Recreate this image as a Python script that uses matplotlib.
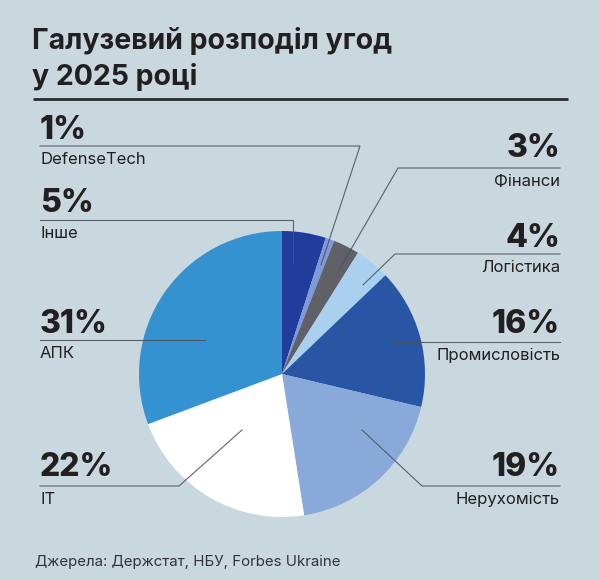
import matplotlib
matplotlib.use("Agg")
import matplotlib.pyplot as plt

# ---- data ----
categories = ["Інше", "DefenseTech", "Фінанси", "Логістика",
              "Промисловість", "Нерухомість", "IT", "АПК"]
shares = [5, 1, 3, 4, 16, 19, 22, 31]
colors = ["#223c9b", "#7f9ad8", "#5f6068", "#abd0ef",
          "#2856a5", "#89a9db", "#ffffff", "#3592d0"]
title_lines = ["Галузевий розподіл угод", "у 2025 році"]
source = "Джерела: Держстат, НБУ, Forbes Ukraine"

BG = "#c9d7df"
TXT = "#231f20"
LINE = "#4d545c"
FONT = ["Inter", "DejaVu Sans"]

fig = plt.figure(figsize=(6, 5.8), dpi=100, facecolor=BG)
ax = fig.add_axes([0, 0, 1, 1])
ax.set_facecolor(BG)

cx, cy, R = 282, 374, 143
ax.pie(shares, colors=colors, startangle=-90, counterclock=True,
       center=(cx, cy), radius=R, normalize=True,
       wedgeprops=dict(linewidth=0))
ax.set_xlim(0, 600)
ax.set_ylim(580, 0)
ax.set_aspect("equal", adjustable="box")
ax.axis("off")

# title
ax.text(32, 49, title_lines[0], fontsize=20.5, fontweight="bold", color=TXT,
        family=FONT, va="baseline", ha="left")
ax.text(32, 85, title_lines[1], fontsize=20.5, fontweight="bold", color=TXT,
        family=FONT, va="baseline", ha="left")
ax.plot([33, 568], [99, 99], color="#2b2b2e", lw=2, solid_capstyle="butt")

# label layout: (side, pct baseline, line y, line end x, anchor point)
layout = {
    "DefenseTech":   ("L", 139, 146, 360, (321, 265)),
    "Інше":          ("L", 212, 220, 293, (293, 263)),
    "АПК":           ("L", 333, 340, 205, None),
    "IT":            ("L", 476, 486, 179, (242, 430)),
    "Фінанси":       ("R", 157, 168, 398, (339, 270)),
    "Логістика":     ("R", 247, 254, 395, (363, 285)),
    "Промисловість": ("R", 333, 342, 392, None),
    "Нерухомість":   ("R", 476, 486, 422, (362, 430)),
}

for cat, val in zip(categories, shares):
    side, pb, ly, lx, anchor = layout[cat]
    if side == "L":
        x0, ha = 40, "left"
    else:
        x0, ha = 560, "right"
    xs = [x0, lx]
    ys = [ly, ly]
    if anchor is not None:
        xs.append(anchor[0])
        ys.append(anchor[1])
    ax.plot(xs, ys, color=LINE, lw=0.8, alpha=0.9, solid_joinstyle="miter")
    ax.text(x0, pb, f"{val}%", fontsize=23, fontweight="heavy", color=TXT,
            family=FONT, ha=ha, va="baseline")
    ax.text(x0, ly + 18, cat, fontsize=12, color=TXT, family=FONT,
            ha=ha, va="baseline")

ax.text(35, 566, source, fontsize=10.8, color="#333333", family=FONT,
        ha="left", va="baseline")

fig.savefig("out.png", dpi=100, facecolor=BG)
